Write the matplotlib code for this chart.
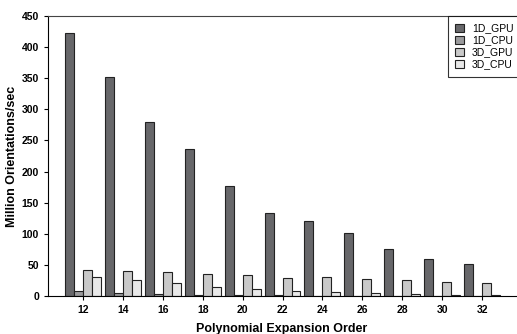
import numpy as np
import matplotlib
matplotlib.use('Agg')
import matplotlib.pyplot as plt

plt.rcParams['font.family'] = ['Liberation Sans', 'DejaVu Sans']

# polynomial expansion orders
orders = [12, 14, 16, 18, 20, 22, 24, 26, 28, 30, 32]

# throughput, million orientations per second
gpu_1d = [422, 352, 280, 236, 177, 134, 121, 101, 76, 60, 51]
cpu_1d = [8, 5, 3, 2, 1.5, 1, 0.6, 0.4, 0.4, 0.4, 0.4]
gpu_3d = [41, 40, 39, 36, 34, 29, 30, 28, 25, 23, 21]
cpu_3d = [31, 26, 20, 15, 11, 8, 6, 4, 3, 2, 1]

series = [('1D_GPU', gpu_1d, '#67676a'),
          ('1D_CPU', cpu_1d, '#9a9a9c'),
          ('3D_GPU', gpu_3d, '#c9c9c9'),
          ('3D_CPU', cpu_3d, '#e8e8e8')]

fig = plt.figure(figsize=(5.17, 3.34), dpi=100)
ax = fig.add_axes([0.093, 0.114, 0.905, 0.838])

x = np.arange(len(orders))
w = 0.225
for i, (name, vals, col) in enumerate(series):
    ax.bar(x + (i - 1.5) * w, vals, w, color=col, edgecolor='#222222',
           linewidth=0.8, label=name)

ax.set_xlim(-0.875, len(orders) - 0.15)
ax.set_ylim(0, 450)
ax.set_yticks(range(0, 451, 50))
ax.set_xticks(x)
ax.set_xticklabels(orders)
ax.tick_params(axis='both', labelsize=7.5, length=3, width=0.8)
for lab in ax.get_xticklabels() + ax.get_yticklabels():
    lab.set_fontweight('bold')
ax.spines['right'].set_visible(False)
for s in ['left', 'bottom', 'top']:
    ax.spines[s].set_linewidth(0.8)
ax.spines['top'].set_color('#444444')

ax.set_xlabel('Polynomial Expansion Order', fontsize=9, fontweight='bold', labelpad=6)
ax.set_ylabel('Million Orientations/sec', fontsize=9, fontweight='bold', labelpad=3)

leg = ax.legend(loc='upper right', bbox_to_anchor=(1.01, 1.0), fontsize=7.5,
                frameon=True, fancybox=False,
                handlelength=0.8, handleheight=0.8, handletextpad=0.8,
                borderaxespad=0, labelspacing=0.2, borderpad=0.7)
leg.get_frame().set_edgecolor('black')
leg.get_frame().set_linewidth(0.8)

plt.savefig('out.png', dpi=100)
